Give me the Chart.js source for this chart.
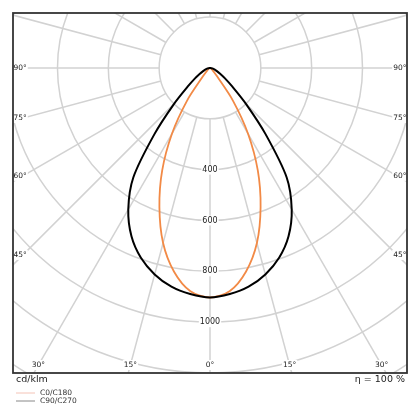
<!DOCTYPE html>
<html lang="en">
<head>
  <meta charset="UTF-8">
  <title>Light distribution curve</title>
  <script src="https://cdn.jsdelivr.net/npm/chart.js"></script>
  <style>
    body {
      margin: 0;
      background: #fff;
    }
    #wrap {
      width: 420px;
      height: 420px;
    }
  </style>
</head>
<body>
  <div id="wrap"><canvas id="ldc" width="420" height="420"></canvas></div>

  <script>
    // gamma angles (deg from nadir) and intensities in cd/klm
    const angles = [0, 5, 10, 15, 20, 25, 30, 35, 40, 45, 50, 55, 60, 65, 70, 75, 80, 85, 90];
    const c0c180 = [903, 882, 814, 713, 582, 445, 300, 158, 42, 18, 11, 7, 5, 3, 2, 1, 1, 0, 0];
    const c90c270 = [903, 893, 874, 841, 795, 731, 643, 526, 340, 200, 115, 72, 46, 30, 20, 12, 6, 2, 0];

    // grid
    const ringValues = [200, 400, 600, 800, 1000, 1200, 1400, 1600];
    const ringLabels = [400, 600, 800, 1000];
    const angleTicks = [0, 15, 30, 45, 60, 75, 90];

    const FONT = '"DejaVu Sans", sans-serif';

    // polar -> x/y in cd units, nadir pointing down, left half mirrored
    function polarPoints(values) {
      const pts = [];
      for (let i = angles.length - 1; i >= 0; i--) {
        const a = angles[i] * Math.PI / 180;
        pts.push({ x: -values[i] * Math.sin(a), y: -values[i] * Math.cos(a) });
      }
      for (let i = 1; i < angles.length; i++) {
        const a = angles[i] * Math.PI / 180;
        pts.push({ x: values[i] * Math.sin(a), y: -values[i] * Math.cos(a) });
      }
      return pts;
    }

    function labelWithBg(ctx, text, x, y, align) {
      const w = ctx.measureText(text).width;
      let left = x - w / 2;
      if (align === 'left') left = x;
      if (align === 'right') left = x - w;
      ctx.fillStyle = '#fff';
      ctx.fillRect(left - 1, y - 5, w + 2, 10);
      ctx.fillStyle = '#222';
      ctx.textAlign = align;
      ctx.fillText(text, x, y);
    }

    const polarGrid = {
      id: 'polarGrid',
      beforeDatasetsDraw(chart) {
        const { ctx, chartArea: area, scales: { x, y } } = chart;
        const cx = x.getPixelForValue(0);
        const cy = y.getPixelForValue(0);
        const k = x.getPixelForValue(1) - cx;

        ctx.save();
        ctx.beginPath();
        ctx.rect(area.left, area.top, area.right - area.left, area.bottom - area.top);
        ctx.clip();
        ctx.strokeStyle = '#d2d2d2';
        ctx.lineWidth = 1.5;

        ringValues.forEach(v => {
          ctx.beginPath();
          ctx.arc(cx, cy, v * k, 0, Math.PI * 2);
          ctx.stroke();
        });

        const r0 = ringValues[0] * k;
        for (let a = 0; a < 360; a += 15) {
          const t = a * Math.PI / 180;
          ctx.beginPath();
          ctx.moveTo(cx + r0 * Math.sin(t), cy + r0 * Math.cos(t));
          ctx.lineTo(cx + 2000 * k * Math.sin(t), cy + 2000 * k * Math.cos(t));
          ctx.stroke();
        }
        ctx.restore();
      },
      afterDatasetsDraw(chart) {
        const { ctx, chartArea: area, scales: { x, y } } = chart;
        const cx = x.getPixelForValue(0);
        const cy = y.getPixelForValue(0);

        ctx.save();
        ctx.textBaseline = 'middle';

        // intensity labels along the nadir axis
        ctx.font = '8px ' + FONT;
        ringLabels.forEach(v => {
          labelWithBg(ctx, String(v), cx, y.getPixelForValue(-v), 'center');
        });

        // angle labels where the rays meet the frame
        ctx.font = '7.5px ' + FONT;
        const inset = 10;
        const bottomY = area.bottom - 8;
        angleTicks.forEach(deg => {
          const t = deg * Math.PI / 180;
          const s = Math.sin(t), c = Math.cos(t);
          if (deg === 0) {
            labelWithBg(ctx, '0°', cx, bottomY, 'center');
            return;
          }
          const tSide = (cx - (area.left + inset)) / s;
          const ySide = cy + tSide * c;
          if (ySide < bottomY) {
            labelWithBg(ctx, deg + '°', area.left + 0.5, ySide, 'left');
            labelWithBg(ctx, deg + '°', area.right - 0.5, ySide, 'right');
          } else {
            const tb = (bottomY - cy) / c;
            labelWithBg(ctx, deg + '°', cx - tb * s, bottomY, 'center');
            labelWithBg(ctx, deg + '°', cx + tb * s, bottomY, 'center');
          }
        });

        // frame
        ctx.strokeStyle = '#333';
        ctx.lineWidth = 1.8;
        ctx.strokeRect(area.left, area.top, area.right - area.left, area.bottom - area.top);

        // footer texts
        ctx.fillStyle = '#222';
        ctx.font = '9.5px ' + FONT;
        ctx.textAlign = 'left';
        ctx.fillText('cd/klm', area.left + 3, area.bottom + 7);
        ctx.textAlign = 'right';
        ctx.fillText('η = 100 %', area.right - 2, area.bottom + 7);

        // legend
        const items = [
          { text: 'C0/C180', color: '#f4c3b6' },
          { text: 'C90/C270', color: '#888' }
        ];
        ctx.font = '7.5px ' + FONT;
        ctx.textAlign = 'left';
        items.forEach((it, i) => {
          const ly = area.bottom + 20 + i * 8;
          ctx.strokeStyle = it.color;
          ctx.lineWidth = 1;
          ctx.beginPath();
          ctx.moveTo(area.left + 3, ly);
          ctx.lineTo(area.left + 22, ly);
          ctx.stroke();
          ctx.fillStyle = '#333';
          ctx.fillText(it.text, area.left + 27, ly);
        });
        ctx.restore();
      }
    };

    new Chart(document.getElementById('ldc'), {
      type: 'scatter',
      data: {
        datasets: [
          {
            label: 'C90/C270',
            data: polarPoints(c90c270),
            showLine: true,
            borderColor: '#000',
            borderWidth: 2,
            pointRadius: 0,
            tension: 0.3,
            borderJoinStyle: 'round',
            borderCapStyle: 'round'
          },
          {
            label: 'C0/C180',
            data: polarPoints(c0c180),
            showLine: true,
            borderColor: '#f28a46',
            borderWidth: 1.8,
            pointRadius: 0,
            tension: 0.3,
            borderJoinStyle: 'round',
            borderCapStyle: 'round'
          }
        ]
      },
      options: {
        responsive: false,
        animation: false,
        layout: { padding: { left: 13, top: 13, right: 13, bottom: 47 } },
        scales: {
          x: { type: 'linear', min: -775, max: 775, display: false },
          y: { type: 'linear', min: -1200, max: 216, display: false }
        },
        plugins: {
          legend: { display: false },
          tooltip: { enabled: false }
        }
      },
      plugins: [polarGrid]
    });
  </script>
</body>
</html>
